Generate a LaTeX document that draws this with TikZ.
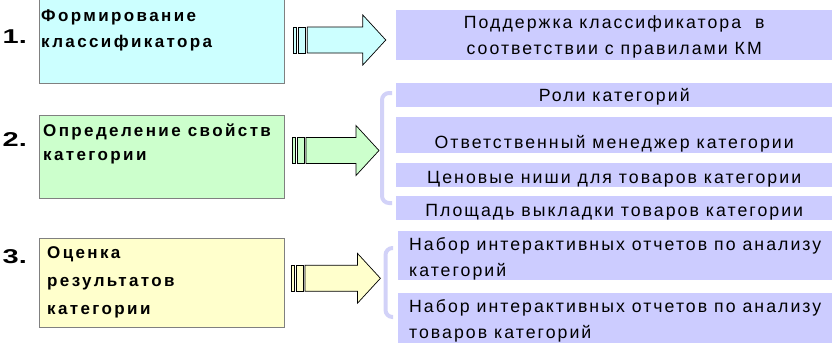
\documentclass[tikz,border=0pt]{standalone}
\usepackage{fontspec}
\setmainfont{Liberation Sans}[LetterSpace=11.5,BoldFeatures={LetterSpace=14}]
\newfontfamily\numfont{Liberation Sans}[FakeStretch=1.45]
\usetikzlibrary{positioning}

\definecolor{cyanfill}{HTML}{CCFFFF}
\definecolor{greenfill}{HTML}{CCFFCC}
\definecolor{yellowfill}{HTML}{FFFFCC}
\definecolor{lavfill}{HTML}{CCCCFF}
\definecolor{bracecol}{HTML}{D2D2F8}
\definecolor{boxgray}{HTML}{808080}

% block arrow: start, shaft length, fill
\newcommand{\blockarrow}[3]{%
  \draw[arrowline,fill=#3] (#1) ++(0,-13) rectangle ++(3.5,26);
  \draw[arrowline,fill=#3] (#1) ++(5,-13) rectangle ++(7.5,26);
  \draw[arrowline,fill=#3] (#1) ++(14,-13) -- ++(#2,0) -- ++(0,-12) -- ++(23,25)
    -- ++(-23,25) -- ++(0,-12) -- ++(-#2,0) -- cycle;}

\begin{document}
\begin{tikzpicture}[x=1pt,y=-1pt,
  stagebox/.style={draw=boxgray,line width=0.8pt,anchor=north west,minimum width=245.5pt,inner sep=0pt},
  stagetext/.style={anchor=base west,align=left,inner sep=0pt,font=\fontsize{17}{25.5}\bfseries},
  stagenum/.style={anchor=base west,inner sep=0pt,font=\numfont\fontsize{20}{24}\bfseries},
  resultbox/.style={fill=lavfill,anchor=north west,minimum width=436pt,inner sep=0pt,font=\fontsize{17.7}{26}\selectfont},
  arrowline/.style={draw=black,line width=0.7pt},
  bracket/.style={draw=bracecol,line width=4pt,rounded corners=7pt}]
\useasboundingbox (0,0) rectangle (835,346);

% stages
\node[stagebox,fill=cyanfill,minimum height=87pt] (form) at (38.5,-4) {};
\node[stagebox,fill=greenfill,minimum height=83pt] (props) at (38.5,115) {};
\node[stagebox,fill=yellowfill,minimum height=88.5pt] (eval) at (38.5,238.3) {};
\node[stagetext] (formtext) at (41,47) {Формирование\\классификатора};
\node[stagetext,font=\fontsize{17}{23.3}\bfseries] (propstext) at (43,160) {Определение свойств\\категории};
\node[stagetext,font=\fontsize{17}{28}\bfseries] (evaltext) at (47,314) {Оценка\\результатов\\категории};
\node[stagenum] (n1) at (2.5,43) {1.};
\node[stagenum] (n2) at (2.5,146) {2.};
\node[stagenum] (n3) at (2.5,263) {3.};

% arrows
\coordinate (a1) at (293.3,40);
\coordinate (a2) at (292,150.5);
\coordinate (a3) at (291,278.3);
\blockarrow{a1}{55.5}{cyanfill}
\blockarrow{a2}{50}{greenfill}
\blockarrow{a3}{52.4}{yellowfill}

% brackets
\draw[bracket] (392,93) -- (382,93) -- (382,203) -- (392,203);
\draw[bracket] (393,248) -- (385.5,248) -- (385.5,317) -- (393,317);

% results
\node[resultbox,text height=44.7pt,text depth=6pt,align=center] (keep) at (396,9.3) {Поддержка классификатора~ в\\соответствии с правилами КМ};
\node[resultbox,text height=18.7pt,text depth=5.3pt] (roles) at (396,83) {Роли категорий};
\node[resultbox,text height=31pt,text depth=5pt] (manager) at (396,117) {Ответственный менеджер категории};
\node[resultbox,text height=20pt,text depth=4pt] (prices) at (396,163) {Ценовые ниши для товаров категории};
\node[resultbox,text height=20pt,text depth=4pt] (shelf) at (396,196) {Площадь выкладки товаров категории};
\node[resultbox,minimum width=434pt,text height=45pt,text depth=4pt,align=left] (catrep) at (398,231) {Набор интерактивных отчетов по анализу\\категорий};
\node[resultbox,minimum width=434pt,text height=45pt,text depth=5pt,align=left] (goodsrep) at (398,293) {Набор интерактивных отчетов по анализу\\товаров категорий};
\end{tikzpicture}
\end{document}
